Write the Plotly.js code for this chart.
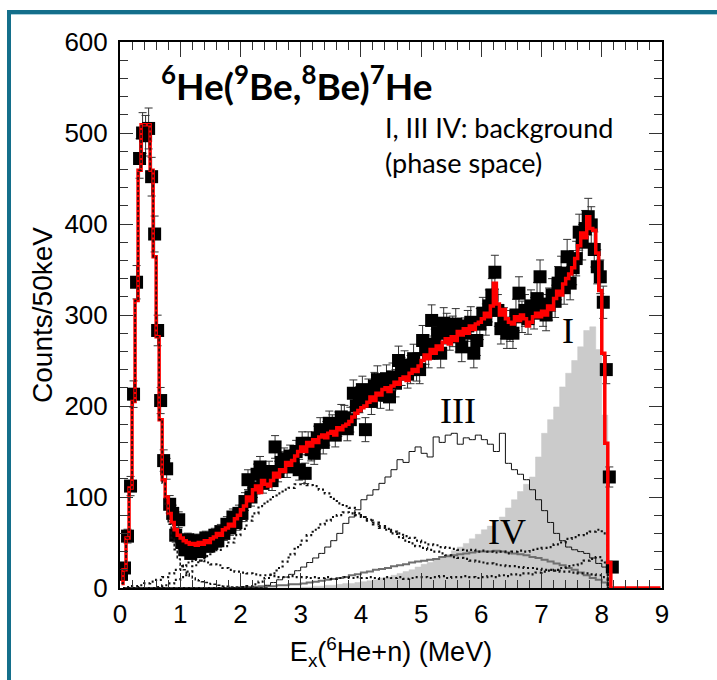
<!DOCTYPE html>
<html>
<head>
<meta charset="utf-8">
<script src="https://cdn.plot.ly/plotly-3.0.1.min.js"></script>
<style>
  html, body { margin: 0; padding: 0; background: #ffffff; }
  #chart { position: absolute; left: 0; top: 0; width: 717px; height: 680px; }
  #frame {
    position: absolute; left: 7px; top: 10px; width: 730px; height: 690px;
    border-top: 4px solid #146f8b; border-left: 4px solid #146f8b;
    box-shadow: inset 0 1px 0 #a9cfdc;
    pointer-events: none; box-sizing: border-box;
  }
</style>
</head>
<body>
<div id="chart"></div>
<div id="frame"></div>
<script>
// Measured counts, 50 keV bins starting at 0 MeV
const measured = [
  15, 22, 57, 112, 213, 336, 472, 500, 497, 505,
  452, 389, 283, 206, 140, 131, 92, 82, 58, 75,
  50, 42, 53, 38, 44, 52, 40, 47, 55, 46,
  49, 58, 52, 62, 60, 70, 66, 78, 72, 82,
  82, 95, 119, 100, 110, 125, 133, 115, 122, 128,
  118, 155, 128, 138, 142, 133, 145, 140, 150, 130,
  159, 126, 159, 152, 148, 165, 174, 160, 170, 181,
  177, 168, 180, 188, 187, 175, 185, 214, 200, 207,
  218, 174, 215, 205, 222, 229, 212, 220, 230, 210,
  232, 225, 250, 238, 245, 235, 240, 252, 243, 240,
  272, 262, 258, 294, 268, 280, 258, 291, 285, 278,
  282, 290, 276, 265, 280, 288, 292, 258, 272, 290,
  302, 295, 310, 322, 347, 305, 285, 291, 280, 288,
  280, 300, 324, 298, 305, 296, 310, 302, 318, 342,
  305, 300, 312, 322, 315, 335, 346, 330, 364, 335,
  352, 362, 391, 380, 395, 408, 399, 372, 353, 342,
  314, 240, 122, 23
];

// Total fit, 50 keV bins from 0 to 9 MeV
const totalFit = [
  5, 20, 55, 110, 205, 316, 459, 509, 509, 509,
  459, 364, 276, 185, 119, 100, 82, 72, 64, 58,
  55, 52, 50, 48, 49, 47, 50, 48, 52, 50,
  54, 56, 60, 58, 64, 66, 70, 68, 76, 80,
  86, 90, 100, 96, 108, 112, 105, 118, 114, 112,
  118, 126, 122, 130, 128, 138, 135, 140, 145, 150,
  155, 150, 160, 156, 163, 160, 166, 168, 165, 170,
  172, 168, 176, 174, 178, 180, 183, 188, 192, 195,
  198, 200, 204, 210, 206, 214, 212, 218, 220, 216,
  222, 226, 224, 230, 232, 228, 236, 240, 238, 244,
  250, 256, 252, 262, 258, 266, 262, 270, 274, 268,
  276, 272, 282, 278, 285, 280, 288, 284, 290, 292,
  296, 302, 298, 310, 335, 312, 300, 306, 296, 292,
  290, 298, 294, 300, 296, 288, 292, 298, 302, 298,
  304, 300, 310, 306, 318, 326, 322, 334, 340, 345,
  352, 362, 376, 390, 385, 408, 395, 393, 368, 327,
  258, 159, 28, 0, 0, 0, 0, 0, 0, 0,
  0, 0, 0, 0, 0, 0, 0, 0, 0, 0
];

// 7He ground-state contribution, 50 keV bins
const groundState = [
  5, 20, 55, 110, 205, 316, 459, 509, 509, 509,
  459, 364, 276, 185, 115, 92, 70, 55, 42, 32,
  25, 20, 16, 13, 11, 9, 8, 7, 6, 5,
  4, 4, 3, 3, 2, 2, 2, 1, 1, 1,
  1, 1, 0, 0, 0, 0, 0, 0, 0, 0
];

// Components on 100 keV bins from 0 to 9 MeV
const resonanceA = [
  0, 0, 0, 0, 0, 0, 1, 3, 5, 9,
  12, 18, 25, 30, 35, 40, 42, 46, 50, 58,
  65, 74, 82, 90, 95, 100, 104, 108, 110, 114,
  115, 113, 112, 108, 104, 98, 93, 90, 88, 82,
  78, 74, 70, 66, 65, 62, 60, 57, 55, 52,
  50, 48, 47, 45, 44, 43, 42, 41, 42, 40,
  41, 40, 39, 40, 38, 40, 41, 40, 42, 43,
  44, 45, 48, 50, 54, 56, 58, 60, 62, 64,
  60, 0, 0, 0, 0, 0, 0, 0, 0, 0
];
const resonanceB = [
  0, 0, 0, 0, 0, 0, 0, 0, 0, 0,
  0, 0, 0, 0, 0, 0, 0, 0, 0, 0,
  1, 2, 4, 7, 11, 16, 22, 29, 37, 45,
  52, 58, 64, 70, 74, 78, 80, 83, 82, 80,
  78, 75, 72, 68, 64, 60, 56, 52, 49, 46,
  44, 42, 40, 38, 36, 34, 33, 32, 30, 29,
  28, 27, 26, 25, 24, 24, 23, 22, 22, 21,
  20, 20, 19, 18, 18, 17, 16, 16, 15, 14,
  12, 0, 0, 0, 0, 0, 0, 0, 0, 0
];
const lowComponent = [
  0, 1, 2, 3, 5, 7, 9, 12, 16, 20,
  24, 28, 31, 30, 28, 26, 25, 22, 20, 18,
  17, 16, 15, 14, 14, 13, 12, 12, 13, 12,
  12, 11, 12, 11, 12, 10, 11, 12, 11, 12,
  11, 12, 11, 10, 12, 11, 12, 10, 11, 12,
  12, 11, 12, 13, 11, 12, 12, 13, 12, 11,
  12, 13, 12, 14, 13, 15, 14, 16, 15, 17,
  18, 19, 20, 22, 24, 25, 27, 30, 32, 34,
  28, 0, 0, 0, 0, 0, 0, 0, 0, 0
];
const backgroundI = [
  0, 0, 0, 0, 0, 0, 0, 0, 0, 0,
  0, 0, 0, 0, 0, 0, 0, 0, 0, 0,
  0, 0, 0, 0, 0, 0, 0, 0, 0, 0,
  1, 1, 2, 2, 3, 3, 4, 5, 5, 6,
  7, 8, 9, 11, 12, 14, 16, 18, 20, 23,
  26, 28, 31, 34, 37, 41, 45, 49, 54, 59,
  64, 68, 74, 78, 88, 97, 106, 114, 122, 144,
  170, 185, 199, 221, 236, 250, 265, 283, 287, 262,
  190, 0, 0, 0, 0, 0, 0, 0, 0, 0
];
const backgroundIII = [
  0, 0, 0, 0, 0, 0, 0, 0, 0, 0,
  0, 0, 0, 0, 0, 0, 0, 0, 0, 0,
  0, 0, 0, 0, 3, 6, 9, 12, 15, 19,
  23, 28, 33, 38, 45, 52, 60, 71, 78, 86,
  97, 102, 108, 115, 122, 130, 141, 138, 150, 155,
  148, 144, 166, 160, 168, 170, 158, 165, 163, 168,
  163, 158, 150, 170, 137, 130, 125, 119, 108, 97,
  85, 72, 60, 52, 45, 42, 40, 38, 33, 27,
  23, 0, 0, 0, 0, 0, 0, 0, 0, 0
];
const backgroundIV = [
  0, 0, 0, 0, 0, 0, 0, 0, 0, 0,
  0, 0, 0, 0, 0, 0, 0, 0, 0, 0,
  1, 1, 1, 2, 2, 2, 3, 3, 4, 4,
  5, 6, 7, 8, 9, 10, 11, 12, 14, 15,
  17, 18, 20, 21, 22, 24, 25, 26, 28, 29,
  30, 31, 32, 34, 35, 36, 37, 38, 39, 40,
  40, 40, 41, 40, 39, 38, 37, 36, 34, 33,
  31, 29, 27, 25, 22, 20, 17, 14, 11, 9,
  6, 0, 0, 0, 0, 0, 0, 0, 0, 0
];

const xTickVals = [0, 1, 2, 3, 4, 5, 6, 7, 8, 9];
const yTickVals = [0, 100, 200, 300, 400, 500, 600];

// bin centres for the two binnings
const centres50 = arr => arr.map((_, i) => 0.025 + 0.05 * i);
const centres100 = arr => arr.map((_, i) => 0.05 + 0.1 * i);

const dotted = { color: '#111111', width: 2.2, dash: '2px,3px', shape: 'hvh' };

const traces = [
  { x: centres100(backgroundI), y: backgroundI, type: 'scatter', mode: 'lines',
    line: { color: '#c8c8c8', width: 0.5, shape: 'hvh' }, fill: 'tozeroy', fillcolor: '#cbcbcb' },
  { x: centres100(backgroundIV), y: backgroundIV, type: 'scatter', mode: 'lines',
    line: { color: '#6f6f6f', width: 2, shape: 'hvh' } },
  { x: centres100(backgroundIII), y: backgroundIII, type: 'scatter', mode: 'lines',
    line: { color: '#111111', width: 1, shape: 'hvh' } },
  { x: centres100(lowComponent), y: lowComponent, type: 'scatter', mode: 'lines', line: dotted },
  { x: centres100(resonanceB), y: resonanceB, type: 'scatter', mode: 'lines', line: dotted },
  { x: centres100(resonanceA), y: resonanceA, type: 'scatter', mode: 'lines', line: dotted },
  { x: centres50(measured), y: measured, type: 'scatter', mode: 'markers',
    marker: { symbol: 'square', size: 13, color: '#000000' },
    error_y: { type: 'sqrt', visible: true, color: '#333333', thickness: 1, width: 4 } },
  { x: centres50(totalFit), y: totalFit, type: 'scatter', mode: 'lines',
    line: { color: '#ff0000', width: 3.5, shape: 'hvh' } },
  { x: centres50(groundState), y: groundState, type: 'scatter', mode: 'lines',
    line: { color: '#111111', width: 1.5, dash: '3px,2px', shape: 'hvh' } }
];

const axisCommon = {
  showline: true, linecolor: '#000000', linewidth: 2, mirror: 'ticks',
  ticks: 'inside', tickcolor: '#333333', tickwidth: 1,
  showgrid: false, zeroline: false,
  tickfont: { family: 'Liberation Sans, Arial, sans-serif', size: 26, color: '#000000' }
};

const layout = {
  width: 717, height: 680,
  margin: { l: 120, r: 55, t: 42, b: 92 },
  paper_bgcolor: '#ffffff', plot_bgcolor: '#ffffff',
  showlegend: false,
  xaxis: Object.assign({}, axisCommon, {
    range: [0, 9], tickvals: xTickVals, ticklen: 15, ticklabelstandoff: 2,
    minor: { dtick: 0.2, ticklen: 8, tickcolor: '#333333', ticks: 'inside' },
    title: { text: 'E<sub>x</sub>(<sup>6</sup>He+n) (MeV)', standoff: 14,
      font: { family: 'Liberation Sans, Arial, sans-serif', size: 27, color: '#000000' } }
  }),
  yaxis: Object.assign({}, axisCommon, {
    range: [0, 600], tickvals: yTickVals, ticklen: 13, ticklabelstandoff: 5,
    minor: { dtick: 20, ticklen: 8, tickcolor: '#333333', ticks: 'inside' },
    title: { text: 'Counts/50keV', standoff: 4,
      font: { family: 'Liberation Sans, Arial, sans-serif', size: 28, color: '#000000' } }
  }),
  annotations: [
    { xref: 'paper', yref: 'paper', x: 0.072, y: 0.925, xanchor: 'left', yanchor: 'middle',
      showarrow: false, align: 'left',
      text: '<b><sup>6</sup>He(<sup>9</sup>Be,<sup>8</sup>Be)<sup>7</sup>He</b>',
      font: { family: 'Lato, sans-serif', size: 37, color: '#000000' } },
    { xref: 'paper', yref: 'paper', x: 0.485, y: 0.812, xanchor: 'left', yanchor: 'middle',
      showarrow: false, align: 'left',
      text: 'I, III IV: background<br>(phase space)',
      font: { family: 'Lato, sans-serif', size: 27, color: '#000000' } },
    { x: 7.44, y: 282, xref: 'x', yref: 'y', showarrow: false, text: 'I',
      font: { family: 'Liberation Serif, serif', size: 36, color: '#000000' } },
    { x: 5.61, y: 195, xref: 'x', yref: 'y', showarrow: false, text: 'III',
      font: { family: 'Liberation Serif, serif', size: 36, color: '#000000' } },
    { x: 6.42, y: 62, xref: 'x', yref: 'y', showarrow: false, text: 'IV',
      font: { family: 'Liberation Serif, serif', size: 36, color: '#000000' } }
  ]
};

Plotly.newPlot('chart', traces, layout, { displayModeBar: false, staticPlot: true });
</script>
</body>
</html>
